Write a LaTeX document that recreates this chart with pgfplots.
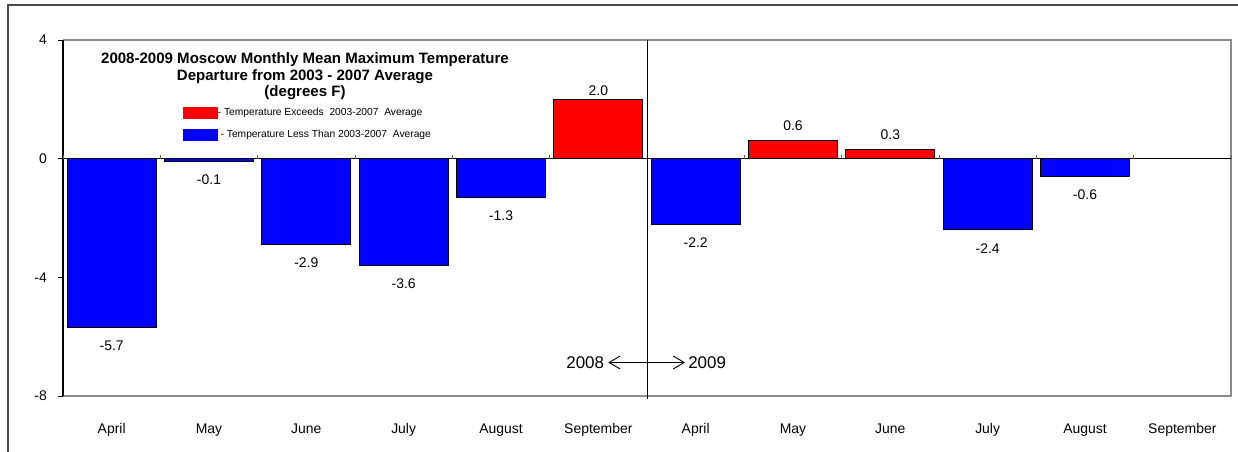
\documentclass[border=0pt]{standalone}
\usepackage{pgfplots}
\pgfplotsset{compat=1.18}
\usepackage{fontspec}
\setmainfont{Liberation Sans}
\usetikzlibrary{arrows.meta}
\begin{document}
\begin{tikzpicture}
\useasboundingbox (0bp,0bp) rectangle (1238bp,-452bp);
\draw[line width=1.5bp, color=black!70] (8bp,-455bp) -- (8bp,-5bp) -- (1242bp,-5bp);
\begin{axis}[
  at={(63bp,-396bp)}, anchor=south west,
  scale only axis, width=1168bp, height=356bp,
  xmin=-0.5, xmax=11.5, ymin=-8, ymax=4,
  clip=false,
  axis line style={draw=none},
  xtick={0,1,2,3,4,5,6,7,8,9,10,11},
  xticklabels={April,May,June,July,August,September,April,May,June,July,August,September},
  xtick style={draw=none},
  xticklabel style={anchor=base, inner sep=0pt, yshift=-32bp, font=\fontsize{14}{16}\selectfont},
  ytick={-8,-4,0,4},
  ytick pos=left, tick align=outside, major tick length=5bp,
  ytick style={black, line width=1bp},
  yticklabel style={font=\fontsize{14}{16}\selectfont, anchor=east, inner sep=0pt, xshift=-11bp},
  /pgf/number format/assume math mode=true,
  ybar, bar width=0.915, bar shift=0pt,
  legend style={at={(0.1027,0.8118)}, anchor=north west, draw=none, fill=none,
    inner sep=0pt, outer sep=0pt, row sep=10bp,
    font=\fontsize{10.3}{12}\selectfont,
    nodes={inner sep=0pt, outer sep=0pt}},
  legend cell align=left,
  nodes near coords={\pgfmathprintnumber[fixed,fixed zerofill,precision=1]{\pgfplotspointmeta}},
  every node near coord/.append style={font=\fontsize{14}{16}\selectfont, inner sep=0pt},
]
\addplot[fill=red, draw=black, line width=0.8bp,
  nodes near coords style={anchor=south, yshift=3bp},
  legend image code/.code={\fill[red] (0bp,-5.5bp) rectangle (34bp,5.5bp);}]
  coordinates {(5,2.0)};
\addlegendentry{- Temperature Exceeds\ \ 2003-2007\ \ Average}
\addplot[fill=blue, draw=black, line width=0.8bp,
  nodes near coords style={anchor=north, yshift=-13bp},
  legend image code/.code={\fill[blue] (0bp,-5.5bp) rectangle (34bp,5.5bp);}]
  coordinates {(0,-5.7) (1,-0.1) (2,-2.9) (3,-3.6) (4,-1.3) (6,-2.2) (9,-2.4) (10,-0.6)};
\addlegendentry{\ - Temperature Less Than 2003-2007\ \ Average}
\addplot[fill=red, draw=black, line width=0.8bp, forget plot,
  nodes near coords style={anchor=south, yshift=10bp}]
  coordinates {(7,0.6) (8,0.3)};
% plot area frame
\draw[black!45, line width=1.2bp] (rel axis cs:0,0) -- (rel axis cs:1,0) -- (rel axis cs:1,1) -- (rel axis cs:0,1);
\draw[black, line width=1.5bp] (rel axis cs:0,0) -- (rel axis cs:0,1);
% zero line and category ticks
\draw[black, line width=1.5bp] (axis cs:-0.5,0) -- (axis cs:11.5,0);
\pgfplotsinvokeforeach{-0.5,0.5,1.5,2.5,3.5,4.5,5.5,6.5,7.5,8.5,9.5,10.5,11.5}{
  \draw[black!60, line width=0.8bp] (axis cs:#1,0) -- ([yshift=4bp]axis cs:#1,0);
}
% year separator
\draw[black, line width=1bp] (axis cs:5.5,4) -- ([yshift=-3bp]axis cs:5.5,-8);
\draw[{Straight Barb[length=11bp,width=13bp]}-{Straight Barb[length=11bp,width=13bp]}, line width=0.9bp]
  (axis cs:5.102,-6.87) -- (axis cs:5.891,-6.87);
\node[anchor=east, inner sep=4bp, font=\fontsize{17}{19}\selectfont] at (axis cs:5.102,-6.87) {2008};
\node[anchor=west, inner sep=3bp, font=\fontsize{17}{19}\selectfont] at (axis cs:5.891,-6.87) {2009};
\end{axis}
\node[anchor=north, align=center, inner sep=0pt, font=\bfseries\fontsize{15.1}{17}\selectfont]
  at (305bp,-52bp) {2008-2009 Moscow Monthly Mean Maximum Temperature\\Departure from 2003 - 2007 Average\\(degrees F)};
\end{tikzpicture}
\end{document}
